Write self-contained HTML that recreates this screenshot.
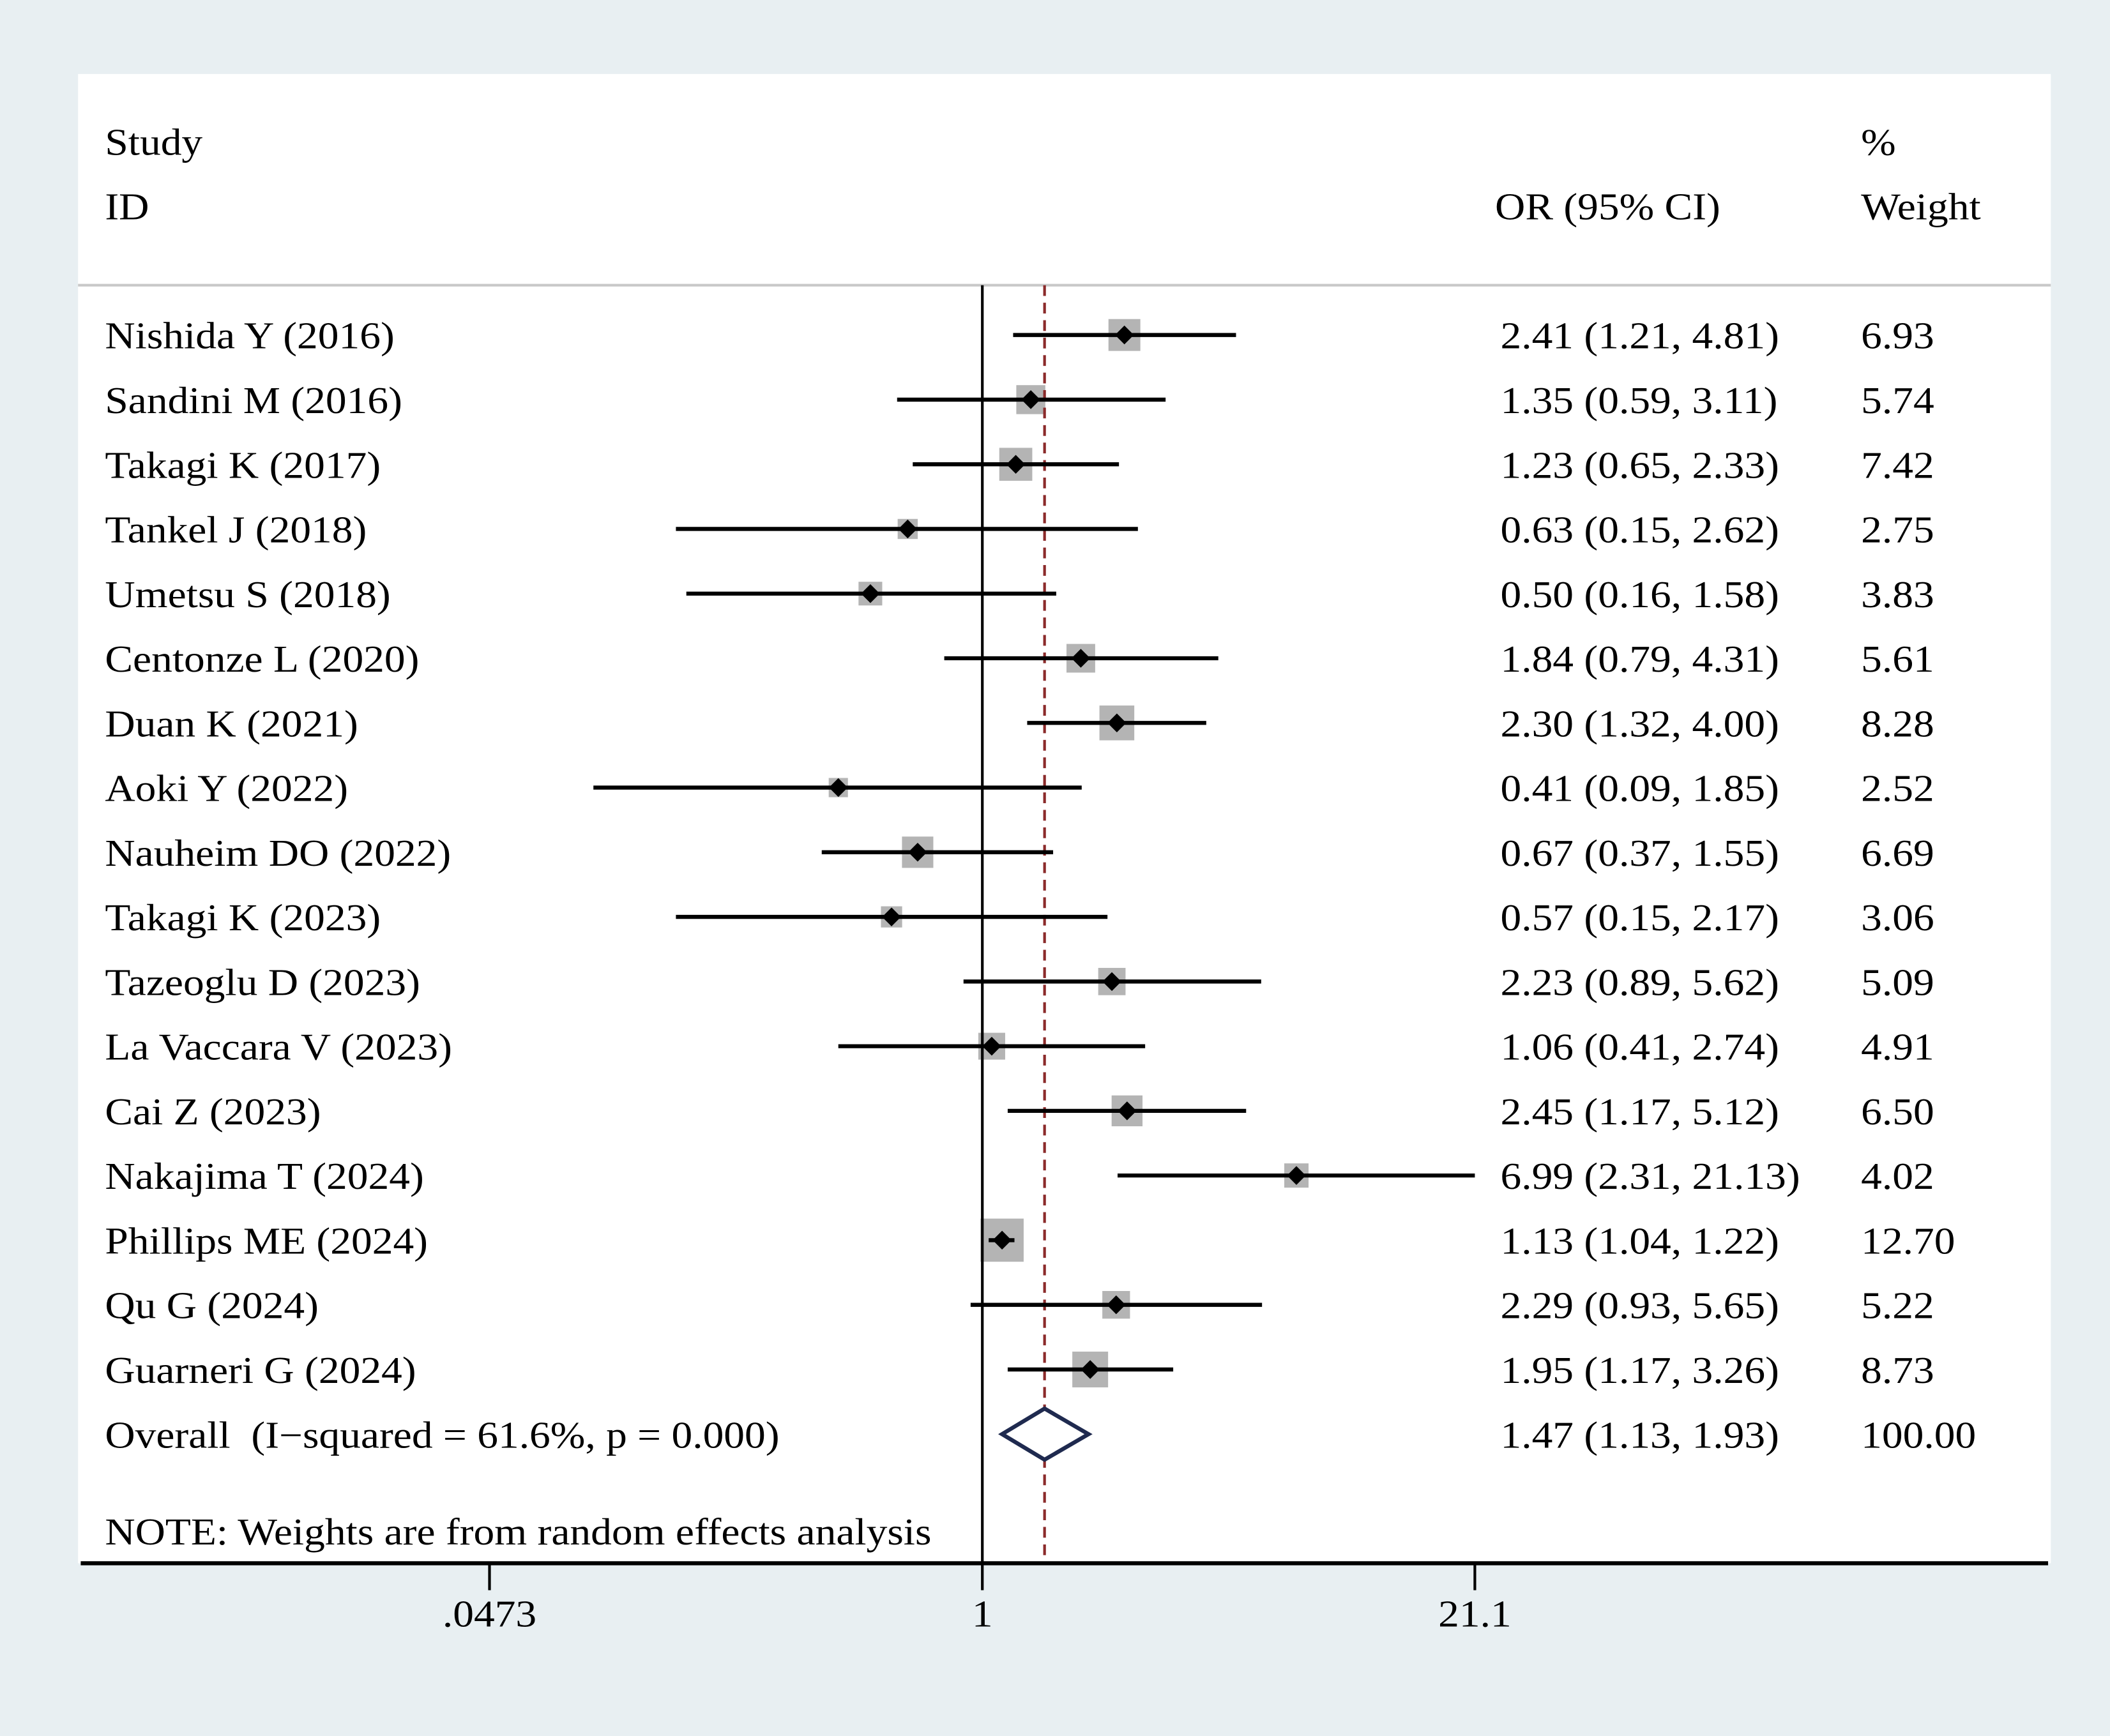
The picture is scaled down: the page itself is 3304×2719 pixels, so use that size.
<!DOCTYPE html>
<html><head><meta charset="utf-8"><style>
html,body{margin:0;padding:0;background:#e8eff2;}
svg{display:block;font-family:"Liberation Serif",serif;}
</style></head><body>
<svg id="chart" width="3304" height="2719" viewBox="0 0 1568 1290.4" preserveAspectRatio="none" xmlns="http://www.w3.org/2000/svg">
<rect x="0" y="0" width="1568" height="1290.4" fill="#e8eff2"/>
<rect x="58" y="55" width="1466" height="1107" fill="#ffffff"/>
<g font-size="28" fill="#000">
<text transform="translate(78,115) scale(1.11,1)">Study</text>
<text transform="translate(78,163) scale(1.11,1)">ID</text>
<text transform="translate(1111,163) scale(1.11,1)">OR (95% CI)</text>
<text transform="translate(1383,115) scale(1.11,1)">%</text>
<text transform="translate(1383,163) scale(1.11,1)">Weight</text>
</g>
<line x1="58" y1="212" x2="1524" y2="212" stroke="#c8c8c8" stroke-width="2"/>
<g id="marks"></g>
</svg>
<script>
const studies=["Nishida Y (2016)","Sandini M (2016)","Takagi K (2017)","Tankel J (2018)","Umetsu S (2018)","Centonze L (2020)","Duan K (2021)","Aoki Y (2022)","Nauheim DO (2022)","Takagi K (2023)","Tazeoglu D (2023)","La Vaccara V (2023)","Cai Z (2023)","Nakajima T (2024)","Phillips ME (2024)","Qu G (2024)","Guarneri G (2024)"];
const orVals=[2.41,1.35,1.23,0.63,0.50,1.84,2.30,0.41,0.67,0.57,2.23,1.06,2.45,6.99,1.13,2.29,1.95];
const lowVals=[1.21,0.59,0.65,0.15,0.16,0.79,1.32,0.09,0.37,0.15,0.89,0.41,1.17,2.31,1.04,0.93,1.17];
const highVals=[4.81,3.11,2.33,2.62,1.58,4.31,4.00,1.85,1.55,2.17,5.62,2.74,5.12,21.13,1.22,5.65,3.26];
const weights=[6.93,5.74,7.42,2.75,3.83,5.61,8.28,2.52,6.69,3.06,5.09,4.91,6.50,4.02,12.70,5.22,8.73];
const overall=[1.47,1.13,1.93];
const overallLabel="Overall\u00a0\u00a0(I\u2212squared = 61.6%, p = 0.000)";
const tickVals=[0.0473,1,21.1];
const tickLabels=[".0473","1","21.1"];
const NS="http://www.w3.org/2000/svg";
const g=document.getElementById('marks');
const xMin=0.0473,xMax=21.1;
function xs(v){const c=Math.min(Math.max(v,xMin),xMax);return 730+(Math.log(c)/Math.log(xMax))*366;}
function ys(i){return 249+i*48.06;}
function fmt(v){return v.toFixed(2);}
function mk(tag,attrs){const e=document.createElementNS(NS,tag);for(const k in attrs)e.setAttribute(k,attrs[k]);g.appendChild(e);return e;}
function txt(x,y,s,anchor){const e=mk('text',{transform:`translate(${x},${y}) scale(1.11,1)`,'font-size':28});if(anchor)e.setAttribute('text-anchor',anchor);e.textContent=s;return e;}
studies.forEach((s,i)=>{
  const side=9*Math.sqrt(weights[i]);const cx=xs(orVals[i]),cy=ys(i);
  const r=mk('rect',{x:cx-side/2,y:cy-side/2,width:side,height:side,fill:'#b4b4b4'});
  
  
});
const nl=mk('line',{x1:xs(1),y1:212,x2:xs(1),y2:1162,stroke:'#000','stroke-width':2});


const ol=mk('line',{x1:xs(overall[0]),y1:212,x2:xs(overall[0]),y2:1162,stroke:'#8b2a2a','stroke-width':2,'stroke-dasharray':'8,5'});


studies.forEach((s,i)=>{
  const y=ys(i);
  const l=mk('line',{x1:xs(lowVals[i]),y1:y,x2:xs(highVals[i]),y2:y,stroke:'#000','stroke-width':3});
  
  
  const cx=xs(orVals[i]);
  const d=mk('polygon',{points:`${cx-7},${y} ${cx},${y-7} ${cx+7},${y} ${cx},${y+7}`,fill:'#000'});
  
  
  const t1=txt(78,y+10,s);
  
  
  const t2=txt(1115,y+10,`${fmt(orVals[i])} (${fmt(lowVals[i])}, ${fmt(highVals[i])})`);
  
  
  const t3=txt(1383,y+10,fmt(weights[i]));
  
  
});
const oy=ys(studies.length);
const od=mk('polygon',{points:`${xs(overall[1])},${oy} ${xs(overall[0])},${oy-19} ${xs(overall[2])},${oy} ${xs(overall[0])},${oy+19}`,fill:'#fff',stroke:'#1f2a4f','stroke-width':3});


const ot=txt(78,oy+10,overallLabel);


const ov=txt(1115,oy+10,`${fmt(overall[0])} (${fmt(overall[1])}, ${fmt(overall[2])})`);


const ow=txt(1383,oy+10,"100.00");


const nt=txt(78,1148,"NOTE: Weights are from random effects analysis");


const ax=mk('line',{x1:60,y1:1162,x2:1522,y2:1162,stroke:'#000','stroke-width':3});


tickVals.forEach((v,i)=>{
  const x=xs(v);
  const tk=mk('line',{x1:x,y1:1162,x2:x,y2:1182,stroke:'#000','stroke-width':2});
  
  
  const tl=txt(x,1209,tickLabels[i],'middle');
  
  
});
</script>
</body></html>
